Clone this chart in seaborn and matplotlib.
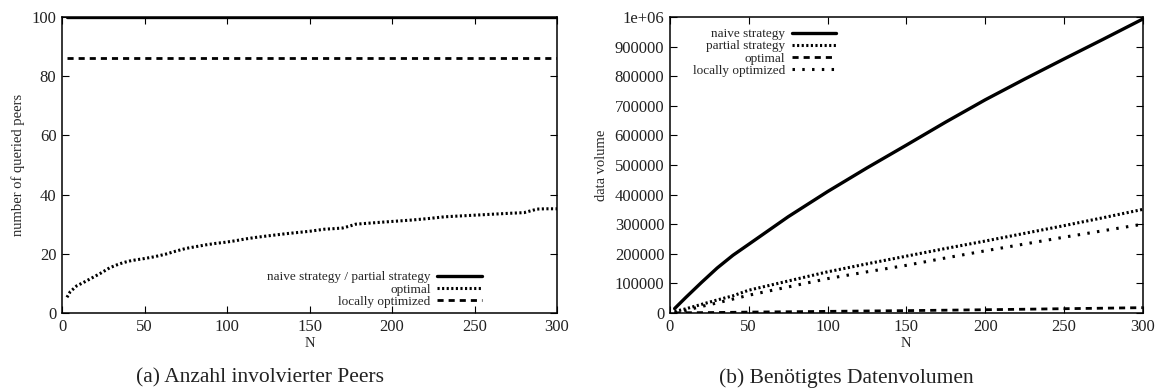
import pandas as pd
import numpy as np
import seaborn as sns
import matplotlib
matplotlib.use("Agg")
import matplotlib.pyplot as plt
from matplotlib.ticker import FixedLocator, FuncFormatter

# =============================================================================
# Data
# =============================================================================

# (a) number of queried peers
n_flat = [3, 300]
naive_partial_peers = [100, 100]
local_peers = [86, 86]

n_opt = [3, 5, 9, 13, 17, 23, 29, 33, 37, 42, 50, 56, 63, 69, 75, 81, 87, 93, 99,
         105, 111, 117, 124, 130, 136, 143, 150, 159, 165, 170, 174, 178, 185,
         192, 202, 212, 222, 232, 242, 252, 262, 272, 280, 284, 288, 293, 300]
optimal_peers = [5.3, 7.2, 9.2, 10.3, 11.5, 13.3, 15.3, 16.2, 17.0, 17.7, 18.4, 19.0,
                 19.9, 20.9, 21.8, 22.4, 23.0, 23.5, 23.9, 24.4, 25.0, 25.5, 26.0,
                 26.4, 26.8, 27.2, 27.6, 28.3, 28.5, 28.7, 29.3, 30.0, 30.3, 30.6,
                 31.0, 31.4, 31.9, 32.5, 32.8, 33.1, 33.4, 33.7, 33.9, 34.5, 35.1,
                 35.2, 35.2]

# (b) data volume
n_vol = [3, 10, 20, 30, 40, 50, 75, 100, 125, 150, 175, 200, 225, 250, 275, 300]
naive_vol = [15000, 52000, 103000, 152000, 195000, 232000, 325000, 410000, 490000,
             567000, 645000, 720000, 790000, 858000, 925000, 993000]
partial_vol = [5000, 14000, 29000, 44000, 58000, 77000, 108000, 139000, 166000,
               192000, 218000, 243000, 269000, 295000, 322000, 350000]
optimal_vol = [500, 800, 1200, 1700, 2300, 3000, 4200, 5500, 6800, 8000, 9500,
               11000, 12700, 14500, 16200, 18000]
local_vol = [0, 9000, 22000, 34000, 47000, 60000, 88000, 116000, 139000, 161000,
             186000, 210000, 233000, 256000, 278000, 300000]

# =============================================================================
# Style
# =============================================================================

sns.set_style("ticks")
plt.rcParams["font.family"] = ["Liberation Serif", "DejaVu Serif"]
plt.rcParams["axes.linewidth"] = 1.0
plt.rcParams["xtick.direction"] = "in"
plt.rcParams["ytick.direction"] = "in"

fine_dots = (0, (0.7, 0.8))
dashes = (0, (2.2, 1.8))
sparse_dots = (0, (0.8, 2.4))


def format_axis(ax):
    ax.set_xlim(0, 300)
    ax.xaxis.set_major_locator(FixedLocator([0, 50, 100, 150, 200, 250, 300]))
    ax.tick_params(axis="both", which="both", top=True, right=True,
                   length=5, width=0.8, labelsize=12, color="black",
                   labelcolor="#222222", pad=4)
    for spine in ax.spines.values():
        spine.set_visible(True)
        spine.set_color("black")
        spine.set_linewidth(1.1)
    ax.set_xlabel("N", fontsize=10.5, labelpad=2)


def right_legend(ax, **kw):
    leg = ax.legend(frameon=False, markerfirst=False, fontsize=9.5,
                    handlelength=3.4, handletextpad=0.5, labelspacing=0.0,
                    borderpad=0, **kw)
    return leg


fig = plt.figure(figsize=(11.59, 3.89), dpi=100)
ax1 = fig.add_axes([0.0535, 0.1954, 0.4271, 0.761])
ax2 = fig.add_axes([0.578, 0.1954, 0.408, 0.761])

# =============================================================================
# (a) Anzahl involvierter Peers
# =============================================================================

sns.lineplot(x=n_flat, y=naive_partial_peers, ax=ax1, color="black",
             linewidth=2.4, label="naive strategy / partial strategy")
sns.lineplot(x=n_opt, y=optimal_peers, ax=ax1, color="black",
             linewidth=2.2, linestyle=fine_dots, label="optimal")
sns.lineplot(x=n_flat, y=local_peers, ax=ax1, color="black",
             linewidth=2.0, linestyle=dashes, label="locally optimized")

format_axis(ax1)
ax1.set_ylim(0, 100)
ax1.yaxis.set_major_locator(FixedLocator([0, 20, 40, 60, 80, 100]))
ax1.set_ylabel("number of queried peers", fontsize=10.5, labelpad=5)
right_legend(ax1, loc="lower right", bbox_to_anchor=(0.862, -0.005))

# =============================================================================
# (b) Benötigtes Datenvolumen
# =============================================================================

sns.lineplot(x=n_vol, y=naive_vol, ax=ax2, color="black",
             linewidth=2.4, label="naive strategy")
sns.lineplot(x=n_vol, y=partial_vol, ax=ax2, color="black",
             linewidth=2.2, linestyle=fine_dots, label="partial strategy")
sns.lineplot(x=n_vol, y=optimal_vol, ax=ax2, color="black",
             linewidth=2.0, linestyle=dashes, label="optimal")
sns.lineplot(x=n_vol, y=local_vol, ax=ax2, color="black",
             linewidth=2.2, linestyle=sparse_dots, label="locally optimized")

format_axis(ax2)
ax2.set_ylim(0, 1e6)
ax2.yaxis.set_major_locator(FixedLocator(np.arange(0, 1000001, 100000)))
ax2.yaxis.set_major_formatter(
    FuncFormatter(lambda v, p: "1e+06" if v >= 1e6 else f"{int(v)}"))
ax2.set_ylabel("data volume", fontsize=10.5, labelpad=5)
right_legend(ax2, loc="upper right", bbox_to_anchor=(0.366, 0.985))

# captions
fig.text(0.224, 0.028, "(a) Anzahl involvierter Peers", ha="center",
         va="center", fontsize=15.5, color="#222222")
fig.text(0.730, 0.028, "(b) Benötigtes Datenvolumen", ha="center",
         va="center", fontsize=15.5, color="#222222")

plt.savefig("out.png", dpi=100)
